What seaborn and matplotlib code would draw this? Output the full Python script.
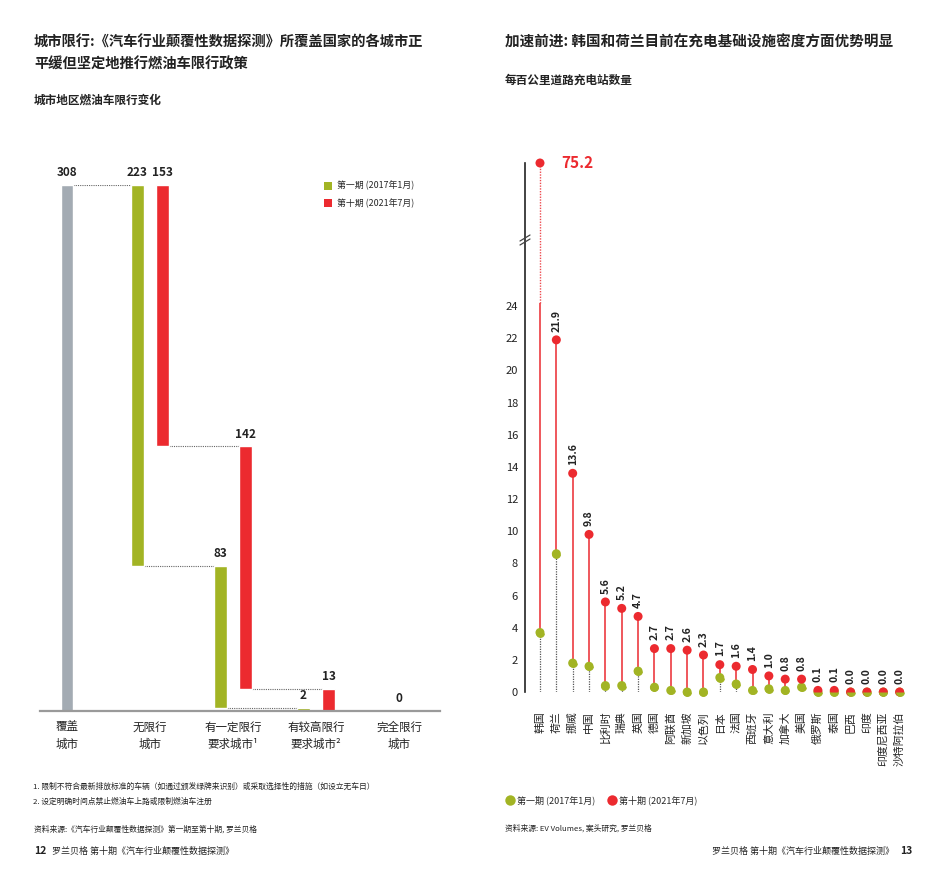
import numpy as np
import pandas as pd
import matplotlib
matplotlib.use("Agg")
import matplotlib.pyplot as plt
from matplotlib.lines import Line2D
from matplotlib.patches import Patch
import seaborn as sns

# ---------------- data ----------------
left_categories = ["覆盖\n城市", "无限行\n城市", "有一定限行\n要求城市¹", "有较高限行\n要求城市²", "完全限行\n城市"]
covered_total = 308
phase1_values = [223, 83, 2, 0]      # 第一期 (2017年1月)
phase10_values = [153, 142, 13, 0]   # 第十期 (2021年7月)

countries = ["韩国", "荷兰", "挪威", "中国", "比利时", "瑞典", "英国", "德国", "阿联酋", "新加坡",
             "以色列", "日本", "法国", "西班牙", "意大利", "加拿大", "美国", "俄罗斯", "泰国", "巴西",
             "印度", "印度尼西亚", "沙特阿拉伯"]
density_2017 = [3.7, 8.6, 1.8, 1.6, 0.4, 0.4, 1.3, 0.3, 0.1, 0.0,
                0.0, 0.9, 0.5, 0.1, 0.2, 0.1, 0.3, 0.0, 0.0, 0.0,
                0.0, 0.0, 0.0]
density_2021 = [75.2, 21.9, 13.6, 9.8, 5.6, 5.2, 4.7, 2.7, 2.7, 2.6,
                2.3, 1.7, 1.6, 1.4, 1.0, 0.8, 0.8, 0.1, 0.1, 0.0,
                0.0, 0.0, 0.0]
y_ticks = list(range(0, 25, 2))

label_p1 = "第一期 (2017年1月)"
label_p10 = "第十期 (2021年7月)"

# ---------------- style ----------------
sns.set_theme(style="white")
plt.rcParams["font.family"] = ["Noto Sans CJK SC", "DejaVu Sans"]
plt.rcParams["axes.unicode_minus"] = False

RED = "#ec2a2f"
RED_LINE = "#ee4a4f"
GREEN = "#a2b424"
GREY_BAR = "#a3abb3"
TXT = "#222222"

W, H = 945, 888
fig = plt.figure(figsize=(W / 100, H / 100), dpi=100)
fig.patch.set_facecolor("white")

def fx(px):
    return px / W

def fy(py):
    return 1 - py / H

# ---------------- left chart ----------------
ax1 = fig.add_axes([fx(40), fy(711), fx(400), (711 - 185) / H])
ax1.set_facecolor("white")
step = 83.0
xc = np.arange(len(left_categories))
ax1.set_xlim(-27 / step, 373 / step)
ax1.set_ylim(0, covered_total)
bw = 12.5 / step
off = 12.7 / step

# covered bar
ax1.bar(xc[0], covered_total, width=bw, color=GREY_BAR, zorder=2)
ax1.annotate(str(covered_total), (xc[0], covered_total), xytext=(0, 4), textcoords="offset points",
             ha="center", va="bottom", fontsize=8.5, fontweight="bold", color=TXT, annotation_clip=False)

def draw_series(values, shift, color):
    bottoms = covered_total - np.cumsum(values)
    tops = bottoms + np.array(values)
    xs = xc[1:] + shift
    for x, b, v in zip(xs, bottoms, values):
        if v > 0:
            ax1.bar(x, v, bottom=b, width=bw, color=color, zorder=2)
    return xs, bottoms, tops

g_x, g_b, g_t = draw_series(phase1_values, -off, GREEN)
r_x, r_b, r_t = draw_series(phase10_values, off, RED)

# connectors
dot_kw = dict(color="#666666", lw=0.8, linestyle=(0, (1, 1)), zorder=1)
ax1.plot([xc[0] + bw / 2, g_x[0] - bw / 2], [covered_total, covered_total], **dot_kw)
for xs, bs, vals in ((g_x, g_b, phase1_values), (r_x, r_b, phase10_values)):
    for i in range(len(vals) - 1):
        if bs[i] > 0 and vals[i + 1] > 0:
            ax1.plot([xs[i] + bw / 2, xs[i + 1] - bw / 2], [bs[i], bs[i]], **dot_kw)

# value labels
for i in range(len(phase1_values)):
    gv, rv = phase1_values[i], phase10_values[i]
    if gv == 0 and rv == 0:
        ax1.annotate(str(gv), (xc[i + 1], 0), xytext=(0, 4), textcoords="offset points",
                     ha="center", va="bottom", fontsize=8.5, fontweight="bold", color=TXT)
        continue
    ax1.annotate(str(gv), (g_x[i], g_t[i]), xytext=(0, 4), textcoords="offset points",
                 ha="center", va="bottom", fontsize=8.5, fontweight="bold", color=TXT, annotation_clip=False)
    ax1.annotate(str(rv), (r_x[i], r_t[i]), xytext=(0, 4), textcoords="offset points",
                 ha="center", va="bottom", fontsize=8.5, fontweight="bold", color=TXT, annotation_clip=False)

for s in ["top", "right", "left"]:
    ax1.spines[s].set_visible(False)
ax1.spines["bottom"].set_color("#9a9a9a")
ax1.spines["bottom"].set_linewidth(1.6)
ax1.set_yticks([])
ax1.set_xticks(xc)
ax1.set_xticklabels(left_categories, fontsize=8.3, color=TXT, linespacing=1.45)
ax1.tick_params(axis="x", length=0, pad=7)
ax1.grid(False)

ax1.legend(handles=[Patch(facecolor=GREEN, edgecolor="none", label=label_p1),
                    Patch(facecolor=RED, edgecolor="none", label=label_p10)],
           loc="upper left", bbox_to_anchor=(fx(324), fy(181)), bbox_transform=fig.transFigure,
           frameon=False, fontsize=6.4, handlelength=0.85, handleheight=1.0, handletextpad=0.6,
           labelspacing=0.9, borderaxespad=0, borderpad=0)

# ---------------- right chart ----------------
B = 28.0
K = 0.1038

def fwd(y):
    y = np.asarray(y, dtype=float)
    return np.where(y <= B, y, B + (y - B) * K)

def inv(t):
    t = np.asarray(t, dtype=float)
    return np.where(t <= B, t, B + (t - B) / K)

ax2 = fig.add_axes([fx(525), fy(692), fx(916 - 525), (692 - 163) / H])
ax2.set_facecolor("white")
ax2.set_yscale("function", functions=(fwd, inv))

df = pd.DataFrame({"country": countries, "p1": density_2017, "p10": density_2021})
df["i"] = np.arange(len(df))

CUT = 24.2
# grey dotted stems
ax2.vlines(df["i"], 0, df["p1"], color="#555555", lw=0.9, linestyles=(0, (1, 1)), zorder=1)
# red solid connectors
ax2.vlines(df["i"], df["p1"], np.minimum(df["p10"], CUT), color=RED_LINE, lw=1.3, zorder=2)
big = df[df["p10"] > CUT]
ax2.vlines(big["i"], CUT, big["p10"], color=RED_LINE, lw=1.0, linestyles=(0, (1, 1)), zorder=2)

sns.scatterplot(data=df, x="i", y="p1", ax=ax2, color=GREEN, s=42, edgecolor="none", zorder=3,
                clip_on=False, legend=False)
sns.scatterplot(data=df, x="i", y="p10", ax=ax2, color=RED, s=42, edgecolor="none", zorder=4,
                clip_on=False, legend=False)
ax2.plot(df["i"], df["p1"], linestyle="none", marker="o", markersize=6.4, fillstyle="bottom",
         markerfacecolor=GREEN, markeredgewidth=0, zorder=5, clip_on=False)

for _, r in df.iterrows():
    if r["p10"] > CUT:
        ax2.annotate(f"{r['p10']:.1f}", (r["i"], r["p10"]), xytext=(15, 0), textcoords="offset points",
                     ha="left", va="center", fontsize=11, fontweight="bold", color=RED,
                     annotation_clip=False)
    else:
        ax2.annotate(f"{r['p10']:.1f}", (r["i"], r["p10"]), xytext=(0, 6), textcoords="offset points",
                     ha="center", va="bottom", rotation=90, fontsize=7.6, fontweight="bold",
                     color=TXT, annotation_clip=False)

ax2.set_xlim(-15 / 16.36, 23.0)
ax2.set_ylim(0, 75.2)
ax2.set_yticks(y_ticks)
ax2.set_yticklabels([str(t) for t in y_ticks], fontsize=8, color=TXT)
ax2.yaxis.set_minor_locator(matplotlib.ticker.NullLocator())
ax2.set_xticks(df["i"])
ax2.set_xticklabels(countries, rotation=90, fontsize=7.8, color=TXT, va="top")
ax2.tick_params(axis="x", length=0, pad=14)
ax2.tick_params(axis="y", length=0, pad=5)
ax2.set_xlabel("")
ax2.set_ylabel("")
for s in ["top", "right", "bottom"]:
    ax2.spines[s].set_visible(False)
ax2.spines["left"].set_color("#222222")
ax2.spines["left"].set_linewidth(1.2)
ax2.grid(False)

# axis break marks
for dy in (-2.0, 2.0):
    fig.add_artist(Line2D([fx(520), fx(530)], [fy(243 + dy), fy(237 + dy)], color="#444444", lw=0.9))

ax2.legend(handles=[Line2D([], [], marker="o", linestyle="none", markerfacecolor=GREEN, markeredgewidth=0,
                           markersize=7.5, label=label_p1),
                    Line2D([], [], marker="o", linestyle="none", markerfacecolor=RED, markeredgewidth=0,
                           markersize=7.5, label=label_p10)],
           loc="center left", bbox_to_anchor=(fx(506), fy(800)), bbox_transform=fig.transFigure,
           ncol=2, frameon=False, fontsize=6.5, handlelength=0.8, handletextpad=0.4,
           columnspacing=1.5, borderaxespad=0, borderpad=0)

# ---------------- texts ----------------
fig.text(fx(34), fy(43), "城市限行:《汽车行业颠覆性数据探测》所覆盖国家的各城市正", fontsize=10.3,
         fontweight="bold", color=TXT, va="center")
fig.text(fx(34), fy(64), "平缓但坚定地推行燃油车限行政策", fontsize=10.3, fontweight="bold", color=TXT, va="center")
fig.text(fx(34), fy(100), "城市地区燃油车限行变化", fontsize=8.4, fontweight="bold", color=TXT, va="center")

fig.text(fx(505), fy(42), "加速前进: 韩国和荷兰目前在充电基础设施密度方面优势明显", fontsize=10.5,
         fontweight="bold", color=TXT, va="center")
fig.text(fx(505), fy(80), "每百公里道路充电站数量", fontsize=8.4, fontweight="bold", color=TXT, va="center")

fig.text(fx(33), fy(787), "1. 限制不符合最新排放标准的车辆（如通过颁发绿牌来识别）或采取选择性的措施（如设立无车日）",
         fontsize=5.6, color=TXT, va="center")
fig.text(fx(33), fy(802), "2. 设定明确时间点禁止燃油车上路或限制燃油车注册", fontsize=5.6, color=TXT, va="center")
fig.text(fx(34), fy(829), "资料来源:《汽车行业颠覆性数据探测》第一期至第十期, 罗兰贝格", fontsize=5.6, color=TXT,
         va="center")
fig.text(fx(34), fy(851), "12", fontsize=7.5, fontweight="bold", color=TXT, va="center")
fig.text(fx(52), fy(851), "罗兰贝格 第十期《汽车行业颠覆性数据探测》", fontsize=6.5, color=TXT, va="center")

fig.text(fx(505), fy(828), "资料来源: EV Volumes, 案头研究, 罗兰贝格", fontsize=5.6, color=TXT, va="center")
fig.text(fx(894), fy(851), "罗兰贝格 第十期《汽车行业颠覆性数据探测》", fontsize=6.5, color=TXT, va="center", ha="right")
fig.text(fx(900), fy(851), "13", fontsize=7.5, fontweight="bold", color=TXT, va="center")

fig.savefig("out.png", dpi=100, facecolor="white")
